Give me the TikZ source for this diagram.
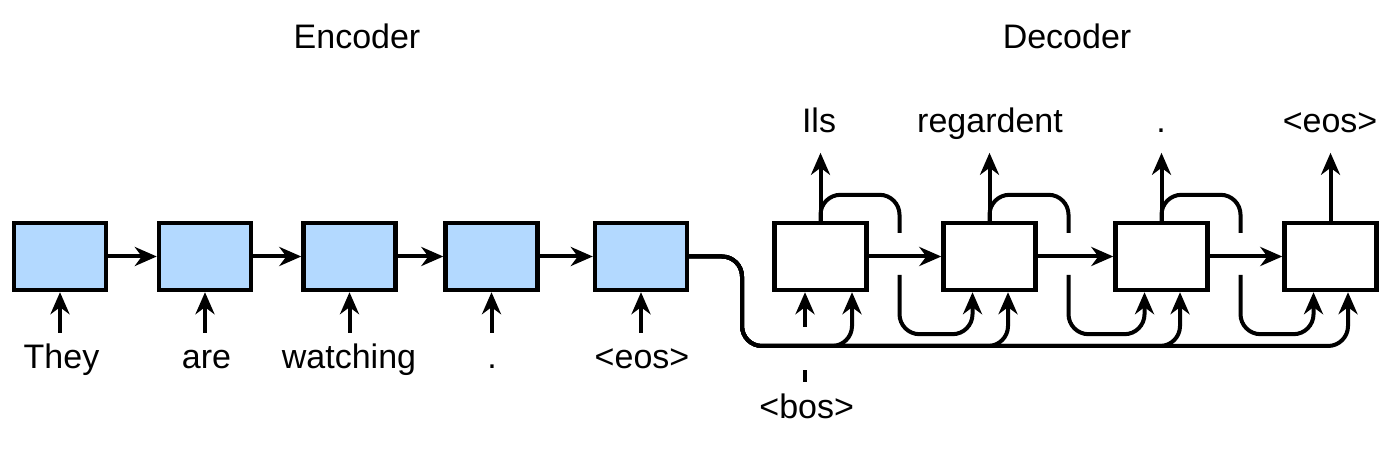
\documentclass[tikz,border=0pt]{standalone}
\usepackage{fontspec}
\setmainfont{Liberation Sans}
\usetikzlibrary{arrows.meta,calc}
\definecolor{encblue}{RGB}{179,217,255}
\begin{document}
\begin{tikzpicture}[x=0.5pt,y=-0.5pt,
  encbox/.style={draw, line width=2.2pt, fill=encblue, minimum width=46pt, minimum height=33.5pt, inner sep=0pt},
  decbox/.style={draw, line width=2.2pt, fill=white, minimum width=46pt, minimum height=33.5pt, inner sep=0pt},
  lbl/.style={font=\fontsize{17}{20}\selectfont, inner sep=0pt, anchor=base},
  ln/.style={line width=2pt},
  arr/.style={line width=2pt, -{Stealth[length=11pt,width=9.5pt,inset=3.5pt]}},
  bus/.style={line width=2pt, rounded corners=10pt}]
\useasboundingbox (0,0) rectangle (1400,458);
% titles
\node[lbl] (tenc) at (357,49) {Encoder};
\node[lbl] (tdec) at (1067,49) {Decoder};
% encoder boxes
\node[encbox] (e1) at (60,256.5) {};
\node[encbox] (e2) at (205,256.5) {};
\node[encbox] (e3) at (349.5,256.5) {};
\node[encbox] (e4) at (491.5,256.5) {};
\node[encbox] (e5) at (641,256.5) {};
% decoder boxes
\node[decbox] (d1) at (820.5,256.5) {};
\node[decbox] (d2) at (989.5,256.5) {};
\node[decbox] (d3) at (1161.5,256.5) {};
\node[decbox] (d4) at (1330.5,256.5) {};
% encoder inputs
\node[lbl] (w1) at (61.5,369) {They};
\node[lbl] (w2) at (206.5,369) {are};
\node[lbl] (w3) at (349,369) {watching};
\node[lbl] (w4) at (492,369) {.};
\node[lbl] (w5) at (642,369) {<eos>};
\foreach \i/\x in {1/60,2/205,3/349.5,4/491.5,5/641}{
  \coordinate (i\i) at (\x,333);
  \draw[arr] (i\i) -- (e\i.south);
}
% encoder chain
\draw[arr] (e1.east) -- (e2.west);
\draw[arr] (e2.east) -- (e3.west);
\draw[arr] (e3.east) -- (e4.west);
\draw[arr] (e4.east) -- (e5.west);
% decoder chain
\draw[arr] (d1.east) -- (d2.west);
\draw[arr] (d2.east) -- (d3.west);
\draw[arr] (d3.east) -- (d4.west);
% outputs
\node[lbl] (y1) at (819,133) {Ils};
\node[lbl] (y2) at (990,133) {regardent};
\node[lbl] (y3) at (1161,133) {.};
\node[lbl] (y4) at (1330,133) {<eos>};
\foreach \i in {1,2,3,4}{
  \coordinate (o\i) at ($(d\i.north)+(0,-68)$);
  \draw[arr] (d\i.north) -- (o\i);
}
% feedback loops
\foreach \i/\j in {1/2,2/3,3/4}{
  \draw[bus] (d\i.north) |- ($(d\i.north)+(79,-26)$) -- ($(d\i.north)+(79,12)$);
  \draw[bus,arr] ($(d\i.north)+(79,54)$) |- ($(d\j.south)+(-17,42)$) -- ($(d\j.south)+(-17,0)$);
}
% encoder state bus
\coordinate (bus) at (742,346);
\draw[bus,arr] (e5.east) -| (bus) -| ($(d1.south)+(31.5,0)$);
\draw[bus,arr] (e5.east) -| (bus) -| ($(d2.south)+(18.5,0)$);
\draw[bus,arr] (e5.east) -| (bus) -| ($(d3.south)+(18.5,0)$);
\draw[bus,arr] (e5.east) -| (bus) -| ($(d4.south)+(17.5,0)$);
% bos
\node[lbl] (bos) at (806.7,418) {<bos>};
\coordinate (b1) at (805,382);
\coordinate (b2) at (805,370);
\coordinate (b3) at (805,327);
\draw[ln] (b1) -- (b2);
\draw[arr] (b3) -- ($(d1.south)+(-15.5,0)$);
\end{tikzpicture}
\end{document}
